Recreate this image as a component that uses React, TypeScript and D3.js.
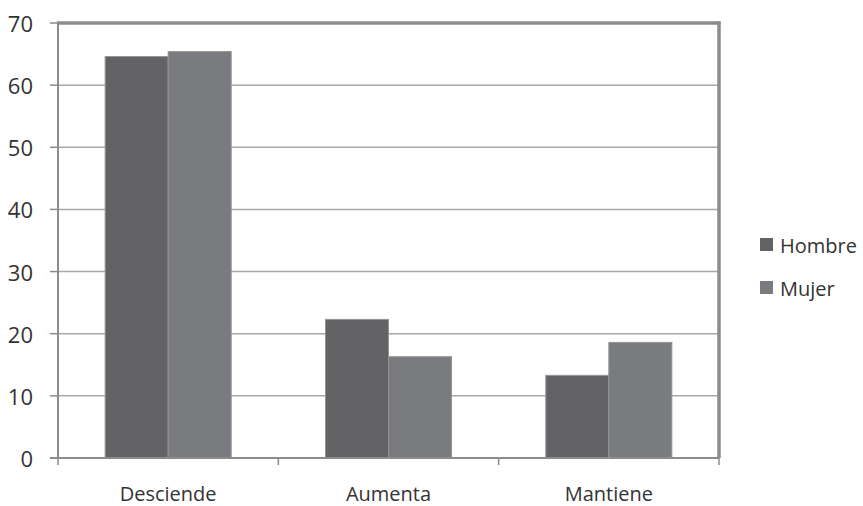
import React from "react";
import * as d3 from "d3";

const categories = ["Desciende", "Aumenta", "Mantiene"];
const seriesNames = ["Hombre", "Mujer"];
const hombre = [64.6, 22.3, 13.3];
const mujer = [65.4, 16.3, 18.6];
const yTicks = [0, 10, 20, 30, 40, 50, 60, 70];

const colors = ["#636366", "#7a7b7f"];

export default function App() {
  const W = 863, H = 506;
  const left = 58, right = 719, top = 23, bottom = 458;
  const font = "'Open Sans', sans-serif";
  const x0 = d3.scaleBand<string>().domain(categories).range([left, right]).paddingInner(0.428).paddingOuter(0.214);
  const x1 = d3.scaleBand<string>().domain(seriesNames).range([0, x0.bandwidth()]);
  const y = d3.scaleLinear().domain([0, 70]).range([bottom, top]);
  const data = [hombre, mujer];
  const catTicks = [left, left + (right - left) / 3, left + (2 * (right - left)) / 3, right];
  return (
    <svg width={W} height={H} style={{ position: "absolute", left: 0, top: 0, background: "#fff" }}>
      {yTicks.filter(t => t > 0 && t < 70).map(t => (
        <line key={"g" + t} x1={left} x2={right} y1={y(t)} y2={y(t)} stroke="#a8a8a8" strokeWidth={1.5} />
      ))}
      {yTicks.map(t => (
        <g key={"t" + t}>
          <line x1={left - 8} x2={left} y1={y(t)} y2={y(t)} stroke="#8c8c8c" strokeWidth={1.5} />
          <text x={33} y={y(t)} textAnchor="end" dominantBaseline="central" fontFamily={font} fontSize={22} fill="#333">{t}</text>
        </g>
      ))}
      {categories.map((c, i) =>
        seriesNames.map((s, j) => (
          <rect key={c + s} x={(x0(c) as number) + (x1(s) as number)} y={y(data[j][i])} width={x1.bandwidth()} height={bottom - y(data[j][i])}
            fill={colors[j]} stroke="#949497" strokeWidth={1} />
        ))
      )}
      <line x1={left} x2={left} y1={top} y2={bottom} stroke="#8c8c8c" strokeWidth={2} />
      <line x1={left - 1} x2={right + 1.5} y1={top} y2={top} stroke="#8c8c8c" strokeWidth={3.5} />
      <line x1={right} x2={right} y1={top - 1.5} y2={bottom} stroke="#8c8c8c" strokeWidth={3.5} />
      <line x1={left - 8} x2={right} y1={bottom} y2={bottom} stroke="#8c8c8c" strokeWidth={2} />
      {catTicks.map((t, i) => (
        <line key={"ct" + i} x1={t} x2={t} y1={bottom} y2={bottom + 7} stroke="#8c8c8c" strokeWidth={1.5} />
      ))}
      {categories.map(c => (
        <text key={"l" + c} x={(x0(c) as number) + x0.bandwidth() / 2} y={493} textAnchor="middle" dominantBaseline="central" fontFamily={font} fontSize={20} fill="#333">{c}</text>
      ))}
      {seriesNames.map((s, j) => (
        <g key={"lg" + s}>
          <rect x={760} y={238 + j * 43} width={13} height={13} fill={colors[j]} />
          <text x={780} y={245 + j * 43} dominantBaseline="central" fontFamily={font} fontSize={20} fill="#333">{s}</text>
        </g>
      ))}
    </svg>
  );
}
